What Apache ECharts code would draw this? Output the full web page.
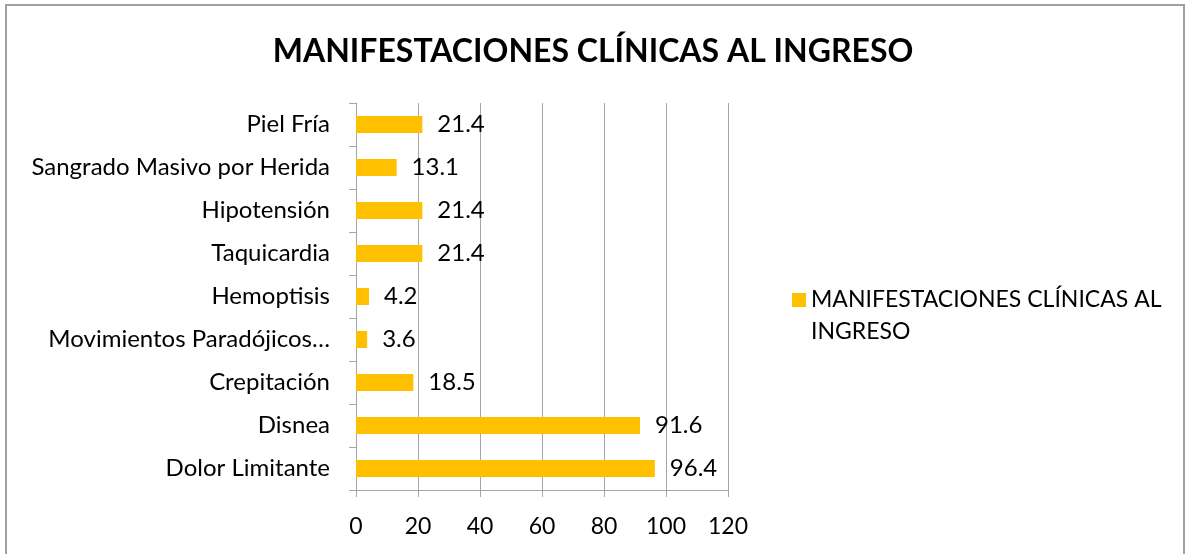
<!DOCTYPE html>
<html>
<head>
<meta charset="utf-8">
<script src="https://cdn.jsdelivr.net/npm/echarts@6/dist/echarts.min.js"></script>
<style>
    * { margin: 0; padding: 0; }
    body { background: #fff; }
    #frame {
        position: absolute; left: 5px; top: 4px; width: 1180px; height: 560px;
        border: 2px solid #a0a0a0; box-sizing: border-box;
    }
    #chart { position: absolute; left: 0; top: 0; width: 1186px; height: 554px; }
</style>
</head>
<body>
<div id="frame"></div>
<div id="chart"></div>
<script>
    // categorias de abajo hacia arriba (como en el eje)
    var categorias = ['Dolor Limitante', 'Disnea', 'Crepitación', 'Movimientos Paradójicos…',
        'Hemoptisis', 'Taquicardia', 'Hipotensión', 'Sangrado Masivo por Herida', 'Piel Fría'];
    var valores = [96.4, 91.6, 18.5, 3.6, 4.2, 21.4, 21.4, 13.1, 21.4];
    var serieNombre = 'MANIFESTACIONES CLÍNICAS AL INGRESO';
    var ticksX = { min: 0, max: 120, interval: 20 };

    var fuente = 'Lato, "Open Sans", sans-serif';
    var gris = '#a6a6a6';

    var chart = echarts.init(document.getElementById('chart'));
    chart.setOption({
        animation: false,
        title: {
            text: serieNombre,
            left: 'center',
            top: 31,
            textStyle: { fontFamily: fuente, fontSize: 32, fontWeight: 'bold', color: '#000' }
        },
        legend: {
            data: [serieNombre],
            left: 792,
            top: 252,
            padding: 0,
            icon: 'rect',
            itemWidth: 14,
            itemHeight: 14,
            itemGap: 8,
            // linea vacia arriba para que el cuadro quede con la primera linea
            formatter: function () { return '\nMANIFESTACIONES CLÍNICAS AL\nINGRESO'; },
            textStyle: { fontFamily: fuente, fontSize: 23, color: '#000', lineHeight: 32 }
        },
        grid: { left: 356, right: 458, top: 103, bottom: 64, containLabel: false },
        xAxis: {
            type: 'value',
            min: ticksX.min,
            max: ticksX.max,
            interval: ticksX.interval,
            axisLine: { show: true, lineStyle: { color: gris } },
            axisTick: { show: true, length: 7, lineStyle: { color: gris } },
            splitLine: { show: true, lineStyle: { color: gris } },
            axisLabel: { margin: 25, fontFamily: fuente, fontSize: 23, color: '#000' }
        },
        yAxis: {
            type: 'category',
            data: categorias,
            axisLine: { show: true, lineStyle: { color: gris } },
            axisTick: { show: true, length: 7, lineStyle: { color: gris } },
            axisLabel: { margin: 26, fontFamily: fuente, fontSize: 24, color: '#000' }
        },
        series: [{
            name: serieNombre,
            type: 'bar',
            data: valores,
            barWidth: 17,
            itemStyle: { color: '#FFC000' },
            label: {
                show: true,
                position: 'right',
                distance: 15,
                fontFamily: fuente,
                fontSize: 24,
                color: '#000'
            }
        }]
    });
</script>
</body>
</html>
